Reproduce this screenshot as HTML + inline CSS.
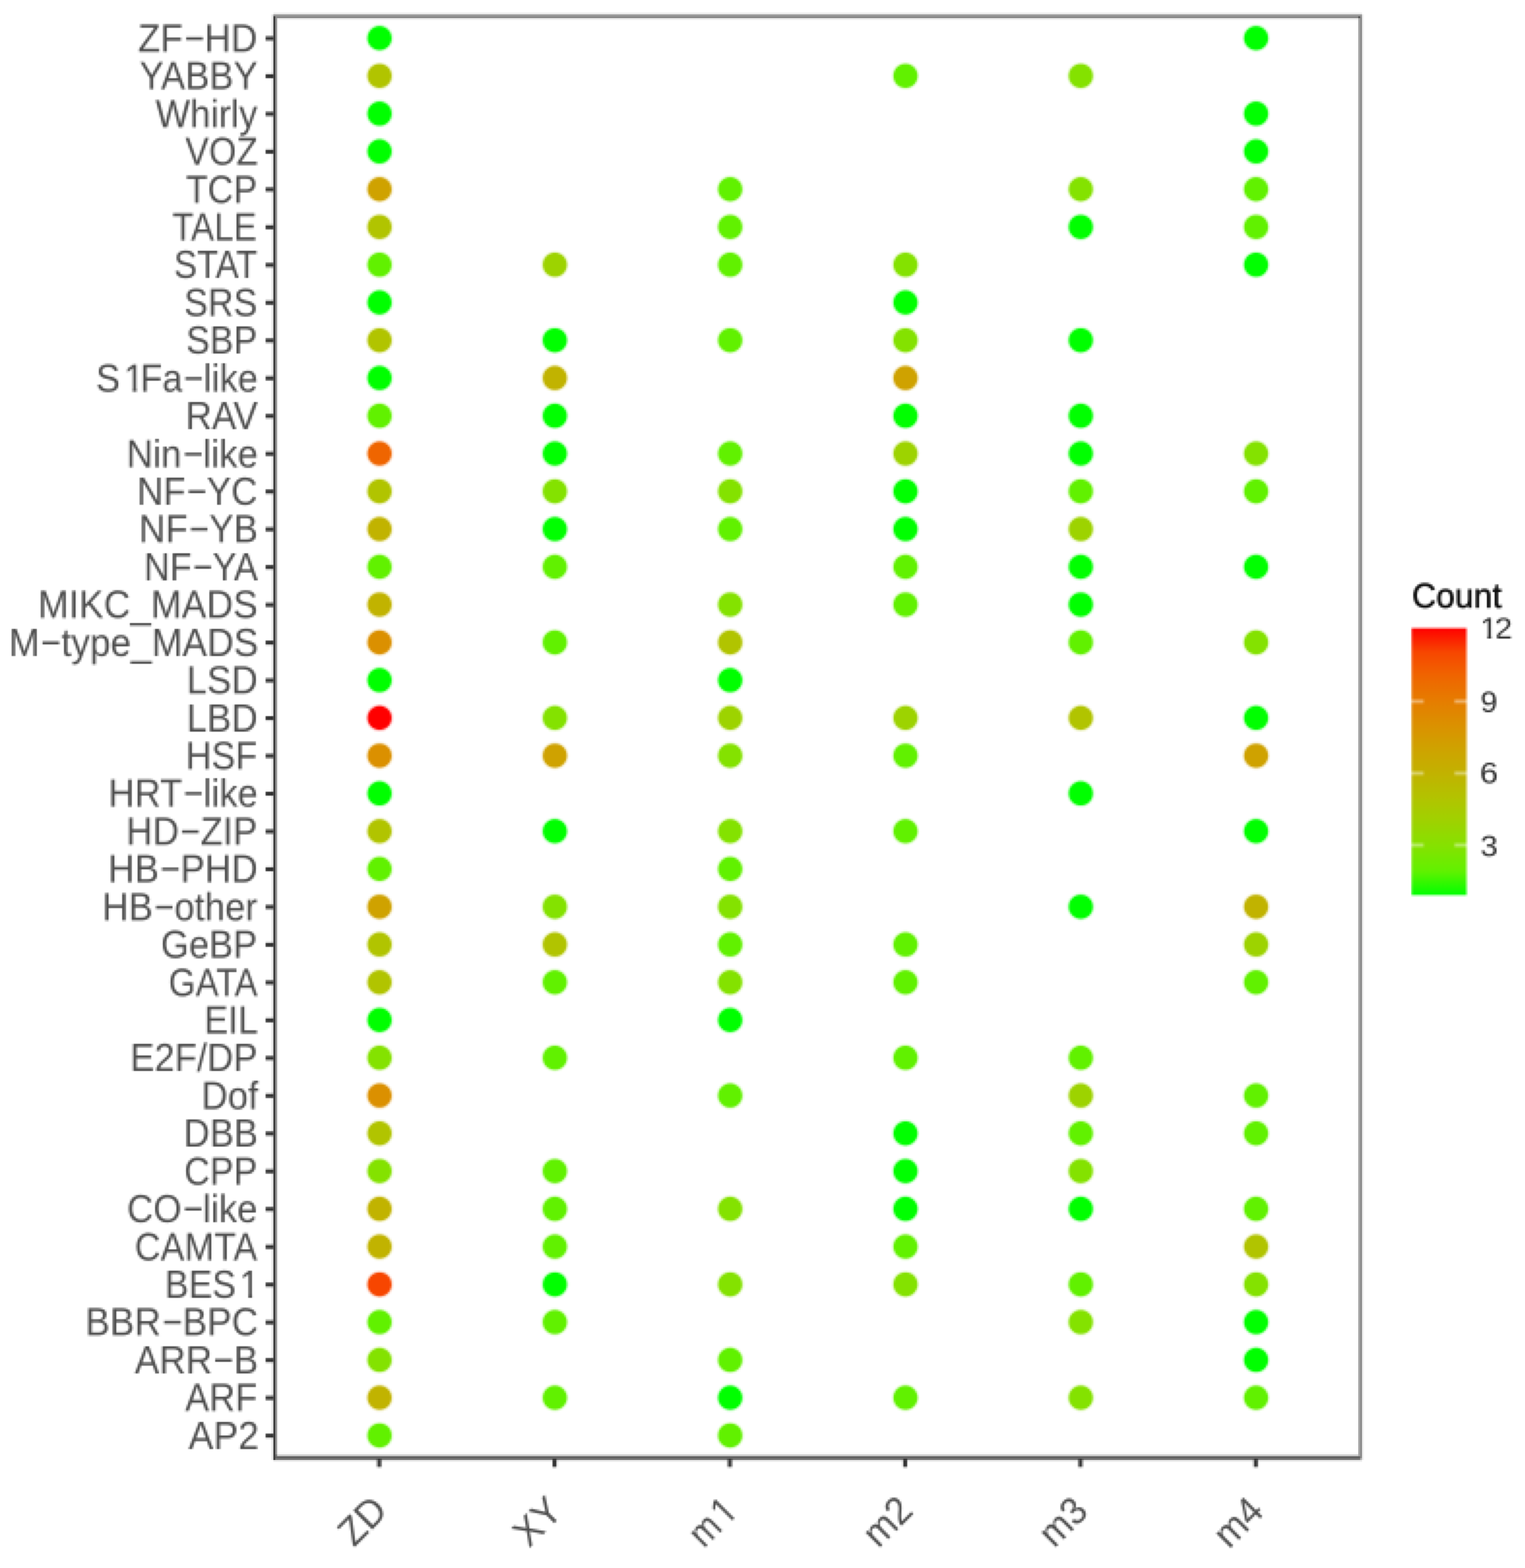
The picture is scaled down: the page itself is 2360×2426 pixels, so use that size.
<!DOCTYPE html>
<html lang="en">
<head>
<meta charset="utf-8">
<title>Transcription factor family counts (ZD, XY, m1-m4)</title>
<style>
html,body{margin:0;padding:0;background:#fff;}
body{font-family:"Liberation Sans",sans-serif;}
#page{position:relative;width:2360px;height:2426px;overflow:hidden;background:#fff;}
#chart{position:absolute;left:0;top:0;width:2360px;height:2426px;filter:url(#pix);}
#chart svg{position:absolute;left:0;top:0;display:block;}
.yl,.xl,.lt,.ll{position:absolute;white-space:nowrap;font-kerning:normal;font-variant-ligatures:none;line-height:1;margin:0;}
.yl{font-size:57px;color:#4d4d4d;text-align:right;transform-origin:100% 0.5027em;}
.h{display:inline-block;width:0.584em;text-align:center;transform:translate(0.02em,-0.072em) scale(1.86,0.95);}
.o{display:inline-block;position:relative;left:0.105em;line-height:1;}
.o::before,.o::after{content:"";position:absolute;top:0.7487em;height:0.125em;background:#fff;}
.o::before{left:0.05em;width:0.1975em;}
.o::after{left:0.3438em;width:0.1902em;}
.xl{font-size:57px;color:#4d4d4d;transform-origin:100% 0.5027em;}
.lt{font-size:53px;color:#0d0d0d;-webkit-text-stroke:0.9px #0d0d0d;transform-origin:0 0.5027em;}
.ll{font-size:44px;color:#2e2e2e;transform-origin:0 0.5027em;}
</style>
</head>
<body>
<div id="page">
<svg width="0" height="0" style="position:absolute">
<filter id="pix" x="0" y="0" width="2360" height="2426" filterUnits="userSpaceOnUse" primitiveUnits="userSpaceOnUse" color-interpolation-filters="sRGB">
<feConvolveMatrix in="SourceGraphic" order="3" kernelMatrix="1 1 1 1 1 1 1 1 1" divisor="9" edgeMode="duplicate" preserveAlpha="true" result="avg"/>
<feFlood x="1" y="2" width="1" height="1" flood-color="#000" result="dot"/>
<feComposite in="dot" in2="dot" operator="over" x="0" y="1" width="3" height="3" result="cell"/>
<feTile in="cell" result="grid"/>
<feComposite in="avg" in2="grid" operator="in" result="samp"/>
<feMorphology in="samp" operator="dilate" radius="1" result="blocks"/>
<feFlood flood-color="#fff" result="bg"/>
<feComposite in="blocks" in2="bg" operator="over" result="flat"/>
<feConvolveMatrix in="flat" order="3" kernelMatrix="1 3 1 3 9 3 1 3 1" divisor="25" edgeMode="duplicate" preserveAlpha="true"/>
</filter>
</svg>
<div id="chart">
<svg width="2360" height="2426" viewBox="0 0 2360 2426">
<rect x="0" y="0" width="2360" height="2426" fill="#ffffff"/>
<defs><linearGradient id="cb" x1="0" y1="1" x2="0" y2="0">
<stop offset="0" stop-color="#00FF00"/>
<stop offset="0.09" stop-color="#61F100"/>
<stop offset="0.18" stop-color="#84E200"/>
<stop offset="0.27" stop-color="#9DD300"/>
<stop offset="0.36" stop-color="#B1C400"/>
<stop offset="0.45" stop-color="#C1B300"/>
<stop offset="0.55" stop-color="#CFA200"/>
<stop offset="0.64" stop-color="#DB9000"/>
<stop offset="0.73" stop-color="#E67C00"/>
<stop offset="0.82" stop-color="#EF6500"/>
<stop offset="0.91" stop-color="#F74600"/>
<stop offset="1" stop-color="#FF0000"/>
</linearGradient></defs>
<g id="points">
<circle cx="587.4" cy="59" r="21" fill="#00FF00" fill-opacity="0.2"/>
<circle cx="587.4" cy="59" r="18.5" fill="#00FF00"/>
<circle cx="587.4" cy="117.43" r="21" fill="#B1C400" fill-opacity="0.2"/>
<circle cx="587.4" cy="117.43" r="18.5" fill="#B1C400"/>
<circle cx="587.4" cy="175.86" r="21" fill="#00FF00" fill-opacity="0.2"/>
<circle cx="587.4" cy="175.86" r="18.5" fill="#00FF00"/>
<circle cx="587.4" cy="234.29" r="21" fill="#00FF00" fill-opacity="0.2"/>
<circle cx="587.4" cy="234.29" r="18.5" fill="#00FF00"/>
<circle cx="587.4" cy="292.72" r="21" fill="#CFA200" fill-opacity="0.2"/>
<circle cx="587.4" cy="292.72" r="18.5" fill="#CFA200"/>
<circle cx="587.4" cy="351.15" r="21" fill="#B1C400" fill-opacity="0.2"/>
<circle cx="587.4" cy="351.15" r="18.5" fill="#B1C400"/>
<circle cx="587.4" cy="409.58" r="21" fill="#61F100" fill-opacity="0.2"/>
<circle cx="587.4" cy="409.58" r="18.5" fill="#61F100"/>
<circle cx="587.4" cy="468.01" r="21" fill="#00FF00" fill-opacity="0.2"/>
<circle cx="587.4" cy="468.01" r="18.5" fill="#00FF00"/>
<circle cx="587.4" cy="526.44" r="21" fill="#B1C400" fill-opacity="0.2"/>
<circle cx="587.4" cy="526.44" r="18.5" fill="#B1C400"/>
<circle cx="587.4" cy="584.87" r="21" fill="#00FF00" fill-opacity="0.2"/>
<circle cx="587.4" cy="584.87" r="18.5" fill="#00FF00"/>
<circle cx="587.4" cy="643.3" r="21" fill="#61F100" fill-opacity="0.2"/>
<circle cx="587.4" cy="643.3" r="18.5" fill="#61F100"/>
<circle cx="587.4" cy="701.73" r="21" fill="#EF6500" fill-opacity="0.2"/>
<circle cx="587.4" cy="701.73" r="18.5" fill="#EF6500"/>
<circle cx="587.4" cy="760.16" r="21" fill="#B1C400" fill-opacity="0.2"/>
<circle cx="587.4" cy="760.16" r="18.5" fill="#B1C400"/>
<circle cx="587.4" cy="818.59" r="21" fill="#C1B300" fill-opacity="0.2"/>
<circle cx="587.4" cy="818.59" r="18.5" fill="#C1B300"/>
<circle cx="587.4" cy="877.02" r="21" fill="#61F100" fill-opacity="0.2"/>
<circle cx="587.4" cy="877.02" r="18.5" fill="#61F100"/>
<circle cx="587.4" cy="935.45" r="21" fill="#C1B300" fill-opacity="0.2"/>
<circle cx="587.4" cy="935.45" r="18.5" fill="#C1B300"/>
<circle cx="587.4" cy="993.88" r="21" fill="#DB9000" fill-opacity="0.2"/>
<circle cx="587.4" cy="993.88" r="18.5" fill="#DB9000"/>
<circle cx="587.4" cy="1052.31" r="21" fill="#00FF00" fill-opacity="0.2"/>
<circle cx="587.4" cy="1052.31" r="18.5" fill="#00FF00"/>
<circle cx="587.4" cy="1110.74" r="21" fill="#FF0000" fill-opacity="0.2"/>
<circle cx="587.4" cy="1110.74" r="18.5" fill="#FF0000"/>
<circle cx="587.4" cy="1169.17" r="21" fill="#DB9000" fill-opacity="0.2"/>
<circle cx="587.4" cy="1169.17" r="18.5" fill="#DB9000"/>
<circle cx="587.4" cy="1227.6" r="21" fill="#00FF00" fill-opacity="0.2"/>
<circle cx="587.4" cy="1227.6" r="18.5" fill="#00FF00"/>
<circle cx="587.4" cy="1286.03" r="21" fill="#B1C400" fill-opacity="0.2"/>
<circle cx="587.4" cy="1286.03" r="18.5" fill="#B1C400"/>
<circle cx="587.4" cy="1344.46" r="21" fill="#61F100" fill-opacity="0.2"/>
<circle cx="587.4" cy="1344.46" r="18.5" fill="#61F100"/>
<circle cx="587.4" cy="1402.89" r="21" fill="#CFA200" fill-opacity="0.2"/>
<circle cx="587.4" cy="1402.89" r="18.5" fill="#CFA200"/>
<circle cx="587.4" cy="1461.32" r="21" fill="#B1C400" fill-opacity="0.2"/>
<circle cx="587.4" cy="1461.32" r="18.5" fill="#B1C400"/>
<circle cx="587.4" cy="1519.75" r="21" fill="#B1C400" fill-opacity="0.2"/>
<circle cx="587.4" cy="1519.75" r="18.5" fill="#B1C400"/>
<circle cx="587.4" cy="1578.18" r="21" fill="#00FF00" fill-opacity="0.2"/>
<circle cx="587.4" cy="1578.18" r="18.5" fill="#00FF00"/>
<circle cx="587.4" cy="1636.61" r="21" fill="#84E200" fill-opacity="0.2"/>
<circle cx="587.4" cy="1636.61" r="18.5" fill="#84E200"/>
<circle cx="587.4" cy="1695.04" r="21" fill="#DB9000" fill-opacity="0.2"/>
<circle cx="587.4" cy="1695.04" r="18.5" fill="#DB9000"/>
<circle cx="587.4" cy="1753.47" r="21" fill="#B1C400" fill-opacity="0.2"/>
<circle cx="587.4" cy="1753.47" r="18.5" fill="#B1C400"/>
<circle cx="587.4" cy="1811.9" r="21" fill="#84E200" fill-opacity="0.2"/>
<circle cx="587.4" cy="1811.9" r="18.5" fill="#84E200"/>
<circle cx="587.4" cy="1870.33" r="21" fill="#C1B300" fill-opacity="0.2"/>
<circle cx="587.4" cy="1870.33" r="18.5" fill="#C1B300"/>
<circle cx="587.4" cy="1928.76" r="21" fill="#C1B300" fill-opacity="0.2"/>
<circle cx="587.4" cy="1928.76" r="18.5" fill="#C1B300"/>
<circle cx="587.4" cy="1987.19" r="21" fill="#F74600" fill-opacity="0.2"/>
<circle cx="587.4" cy="1987.19" r="18.5" fill="#F74600"/>
<circle cx="587.4" cy="2045.62" r="21" fill="#61F100" fill-opacity="0.2"/>
<circle cx="587.4" cy="2045.62" r="18.5" fill="#61F100"/>
<circle cx="587.4" cy="2104.05" r="21" fill="#84E200" fill-opacity="0.2"/>
<circle cx="587.4" cy="2104.05" r="18.5" fill="#84E200"/>
<circle cx="587.4" cy="2162.48" r="21" fill="#C1B300" fill-opacity="0.2"/>
<circle cx="587.4" cy="2162.48" r="18.5" fill="#C1B300"/>
<circle cx="587.4" cy="2220.91" r="21" fill="#61F100" fill-opacity="0.2"/>
<circle cx="587.4" cy="2220.91" r="18.5" fill="#61F100"/>
<circle cx="858.7" cy="409.58" r="21" fill="#9DD300" fill-opacity="0.2"/>
<circle cx="858.7" cy="409.58" r="18.5" fill="#9DD300"/>
<circle cx="858.7" cy="526.44" r="21" fill="#00FF00" fill-opacity="0.2"/>
<circle cx="858.7" cy="526.44" r="18.5" fill="#00FF00"/>
<circle cx="858.7" cy="584.87" r="21" fill="#C1B300" fill-opacity="0.2"/>
<circle cx="858.7" cy="584.87" r="18.5" fill="#C1B300"/>
<circle cx="858.7" cy="643.3" r="21" fill="#00FF00" fill-opacity="0.2"/>
<circle cx="858.7" cy="643.3" r="18.5" fill="#00FF00"/>
<circle cx="858.7" cy="701.73" r="21" fill="#00FF00" fill-opacity="0.2"/>
<circle cx="858.7" cy="701.73" r="18.5" fill="#00FF00"/>
<circle cx="858.7" cy="760.16" r="21" fill="#84E200" fill-opacity="0.2"/>
<circle cx="858.7" cy="760.16" r="18.5" fill="#84E200"/>
<circle cx="858.7" cy="818.59" r="21" fill="#00FF00" fill-opacity="0.2"/>
<circle cx="858.7" cy="818.59" r="18.5" fill="#00FF00"/>
<circle cx="858.7" cy="877.02" r="21" fill="#61F100" fill-opacity="0.2"/>
<circle cx="858.7" cy="877.02" r="18.5" fill="#61F100"/>
<circle cx="858.7" cy="993.88" r="21" fill="#61F100" fill-opacity="0.2"/>
<circle cx="858.7" cy="993.88" r="18.5" fill="#61F100"/>
<circle cx="858.7" cy="1110.74" r="21" fill="#84E200" fill-opacity="0.2"/>
<circle cx="858.7" cy="1110.74" r="18.5" fill="#84E200"/>
<circle cx="858.7" cy="1169.17" r="21" fill="#CFA200" fill-opacity="0.2"/>
<circle cx="858.7" cy="1169.17" r="18.5" fill="#CFA200"/>
<circle cx="858.7" cy="1286.03" r="21" fill="#00FF00" fill-opacity="0.2"/>
<circle cx="858.7" cy="1286.03" r="18.5" fill="#00FF00"/>
<circle cx="858.7" cy="1402.89" r="21" fill="#84E200" fill-opacity="0.2"/>
<circle cx="858.7" cy="1402.89" r="18.5" fill="#84E200"/>
<circle cx="858.7" cy="1461.32" r="21" fill="#B1C400" fill-opacity="0.2"/>
<circle cx="858.7" cy="1461.32" r="18.5" fill="#B1C400"/>
<circle cx="858.7" cy="1519.75" r="21" fill="#61F100" fill-opacity="0.2"/>
<circle cx="858.7" cy="1519.75" r="18.5" fill="#61F100"/>
<circle cx="858.7" cy="1636.61" r="21" fill="#61F100" fill-opacity="0.2"/>
<circle cx="858.7" cy="1636.61" r="18.5" fill="#61F100"/>
<circle cx="858.7" cy="1811.9" r="21" fill="#61F100" fill-opacity="0.2"/>
<circle cx="858.7" cy="1811.9" r="18.5" fill="#61F100"/>
<circle cx="858.7" cy="1870.33" r="21" fill="#61F100" fill-opacity="0.2"/>
<circle cx="858.7" cy="1870.33" r="18.5" fill="#61F100"/>
<circle cx="858.7" cy="1928.76" r="21" fill="#61F100" fill-opacity="0.2"/>
<circle cx="858.7" cy="1928.76" r="18.5" fill="#61F100"/>
<circle cx="858.7" cy="1987.19" r="21" fill="#00FF00" fill-opacity="0.2"/>
<circle cx="858.7" cy="1987.19" r="18.5" fill="#00FF00"/>
<circle cx="858.7" cy="2045.62" r="21" fill="#61F100" fill-opacity="0.2"/>
<circle cx="858.7" cy="2045.62" r="18.5" fill="#61F100"/>
<circle cx="858.7" cy="2162.48" r="21" fill="#61F100" fill-opacity="0.2"/>
<circle cx="858.7" cy="2162.48" r="18.5" fill="#61F100"/>
<circle cx="1130" cy="292.72" r="21" fill="#61F100" fill-opacity="0.2"/>
<circle cx="1130" cy="292.72" r="18.5" fill="#61F100"/>
<circle cx="1130" cy="351.15" r="21" fill="#61F100" fill-opacity="0.2"/>
<circle cx="1130" cy="351.15" r="18.5" fill="#61F100"/>
<circle cx="1130" cy="409.58" r="21" fill="#61F100" fill-opacity="0.2"/>
<circle cx="1130" cy="409.58" r="18.5" fill="#61F100"/>
<circle cx="1130" cy="526.44" r="21" fill="#61F100" fill-opacity="0.2"/>
<circle cx="1130" cy="526.44" r="18.5" fill="#61F100"/>
<circle cx="1130" cy="701.73" r="21" fill="#61F100" fill-opacity="0.2"/>
<circle cx="1130" cy="701.73" r="18.5" fill="#61F100"/>
<circle cx="1130" cy="760.16" r="21" fill="#84E200" fill-opacity="0.2"/>
<circle cx="1130" cy="760.16" r="18.5" fill="#84E200"/>
<circle cx="1130" cy="818.59" r="21" fill="#61F100" fill-opacity="0.2"/>
<circle cx="1130" cy="818.59" r="18.5" fill="#61F100"/>
<circle cx="1130" cy="935.45" r="21" fill="#84E200" fill-opacity="0.2"/>
<circle cx="1130" cy="935.45" r="18.5" fill="#84E200"/>
<circle cx="1130" cy="993.88" r="21" fill="#B1C400" fill-opacity="0.2"/>
<circle cx="1130" cy="993.88" r="18.5" fill="#B1C400"/>
<circle cx="1130" cy="1052.31" r="21" fill="#00FF00" fill-opacity="0.2"/>
<circle cx="1130" cy="1052.31" r="18.5" fill="#00FF00"/>
<circle cx="1130" cy="1110.74" r="21" fill="#9DD300" fill-opacity="0.2"/>
<circle cx="1130" cy="1110.74" r="18.5" fill="#9DD300"/>
<circle cx="1130" cy="1169.17" r="21" fill="#84E200" fill-opacity="0.2"/>
<circle cx="1130" cy="1169.17" r="18.5" fill="#84E200"/>
<circle cx="1130" cy="1286.03" r="21" fill="#84E200" fill-opacity="0.2"/>
<circle cx="1130" cy="1286.03" r="18.5" fill="#84E200"/>
<circle cx="1130" cy="1344.46" r="21" fill="#61F100" fill-opacity="0.2"/>
<circle cx="1130" cy="1344.46" r="18.5" fill="#61F100"/>
<circle cx="1130" cy="1402.89" r="21" fill="#84E200" fill-opacity="0.2"/>
<circle cx="1130" cy="1402.89" r="18.5" fill="#84E200"/>
<circle cx="1130" cy="1461.32" r="21" fill="#61F100" fill-opacity="0.2"/>
<circle cx="1130" cy="1461.32" r="18.5" fill="#61F100"/>
<circle cx="1130" cy="1519.75" r="21" fill="#84E200" fill-opacity="0.2"/>
<circle cx="1130" cy="1519.75" r="18.5" fill="#84E200"/>
<circle cx="1130" cy="1578.18" r="21" fill="#00FF00" fill-opacity="0.2"/>
<circle cx="1130" cy="1578.18" r="18.5" fill="#00FF00"/>
<circle cx="1130" cy="1695.04" r="21" fill="#61F100" fill-opacity="0.2"/>
<circle cx="1130" cy="1695.04" r="18.5" fill="#61F100"/>
<circle cx="1130" cy="1870.33" r="21" fill="#84E200" fill-opacity="0.2"/>
<circle cx="1130" cy="1870.33" r="18.5" fill="#84E200"/>
<circle cx="1130" cy="1987.19" r="21" fill="#84E200" fill-opacity="0.2"/>
<circle cx="1130" cy="1987.19" r="18.5" fill="#84E200"/>
<circle cx="1130" cy="2104.05" r="21" fill="#61F100" fill-opacity="0.2"/>
<circle cx="1130" cy="2104.05" r="18.5" fill="#61F100"/>
<circle cx="1130" cy="2162.48" r="21" fill="#00FF00" fill-opacity="0.2"/>
<circle cx="1130" cy="2162.48" r="18.5" fill="#00FF00"/>
<circle cx="1130" cy="2220.91" r="21" fill="#61F100" fill-opacity="0.2"/>
<circle cx="1130" cy="2220.91" r="18.5" fill="#61F100"/>
<circle cx="1401.3" cy="117.43" r="21" fill="#61F100" fill-opacity="0.2"/>
<circle cx="1401.3" cy="117.43" r="18.5" fill="#61F100"/>
<circle cx="1401.3" cy="409.58" r="21" fill="#84E200" fill-opacity="0.2"/>
<circle cx="1401.3" cy="409.58" r="18.5" fill="#84E200"/>
<circle cx="1401.3" cy="468.01" r="21" fill="#00FF00" fill-opacity="0.2"/>
<circle cx="1401.3" cy="468.01" r="18.5" fill="#00FF00"/>
<circle cx="1401.3" cy="526.44" r="21" fill="#84E200" fill-opacity="0.2"/>
<circle cx="1401.3" cy="526.44" r="18.5" fill="#84E200"/>
<circle cx="1401.3" cy="584.87" r="21" fill="#CFA200" fill-opacity="0.2"/>
<circle cx="1401.3" cy="584.87" r="18.5" fill="#CFA200"/>
<circle cx="1401.3" cy="643.3" r="21" fill="#00FF00" fill-opacity="0.2"/>
<circle cx="1401.3" cy="643.3" r="18.5" fill="#00FF00"/>
<circle cx="1401.3" cy="701.73" r="21" fill="#9DD300" fill-opacity="0.2"/>
<circle cx="1401.3" cy="701.73" r="18.5" fill="#9DD300"/>
<circle cx="1401.3" cy="760.16" r="21" fill="#00FF00" fill-opacity="0.2"/>
<circle cx="1401.3" cy="760.16" r="18.5" fill="#00FF00"/>
<circle cx="1401.3" cy="818.59" r="21" fill="#00FF00" fill-opacity="0.2"/>
<circle cx="1401.3" cy="818.59" r="18.5" fill="#00FF00"/>
<circle cx="1401.3" cy="877.02" r="21" fill="#61F100" fill-opacity="0.2"/>
<circle cx="1401.3" cy="877.02" r="18.5" fill="#61F100"/>
<circle cx="1401.3" cy="935.45" r="21" fill="#61F100" fill-opacity="0.2"/>
<circle cx="1401.3" cy="935.45" r="18.5" fill="#61F100"/>
<circle cx="1401.3" cy="1110.74" r="21" fill="#9DD300" fill-opacity="0.2"/>
<circle cx="1401.3" cy="1110.74" r="18.5" fill="#9DD300"/>
<circle cx="1401.3" cy="1169.17" r="21" fill="#61F100" fill-opacity="0.2"/>
<circle cx="1401.3" cy="1169.17" r="18.5" fill="#61F100"/>
<circle cx="1401.3" cy="1286.03" r="21" fill="#61F100" fill-opacity="0.2"/>
<circle cx="1401.3" cy="1286.03" r="18.5" fill="#61F100"/>
<circle cx="1401.3" cy="1461.32" r="21" fill="#61F100" fill-opacity="0.2"/>
<circle cx="1401.3" cy="1461.32" r="18.5" fill="#61F100"/>
<circle cx="1401.3" cy="1519.75" r="21" fill="#61F100" fill-opacity="0.2"/>
<circle cx="1401.3" cy="1519.75" r="18.5" fill="#61F100"/>
<circle cx="1401.3" cy="1636.61" r="21" fill="#61F100" fill-opacity="0.2"/>
<circle cx="1401.3" cy="1636.61" r="18.5" fill="#61F100"/>
<circle cx="1401.3" cy="1753.47" r="21" fill="#00FF00" fill-opacity="0.2"/>
<circle cx="1401.3" cy="1753.47" r="18.5" fill="#00FF00"/>
<circle cx="1401.3" cy="1811.9" r="21" fill="#00FF00" fill-opacity="0.2"/>
<circle cx="1401.3" cy="1811.9" r="18.5" fill="#00FF00"/>
<circle cx="1401.3" cy="1870.33" r="21" fill="#00FF00" fill-opacity="0.2"/>
<circle cx="1401.3" cy="1870.33" r="18.5" fill="#00FF00"/>
<circle cx="1401.3" cy="1928.76" r="21" fill="#61F100" fill-opacity="0.2"/>
<circle cx="1401.3" cy="1928.76" r="18.5" fill="#61F100"/>
<circle cx="1401.3" cy="1987.19" r="21" fill="#84E200" fill-opacity="0.2"/>
<circle cx="1401.3" cy="1987.19" r="18.5" fill="#84E200"/>
<circle cx="1401.3" cy="2162.48" r="21" fill="#61F100" fill-opacity="0.2"/>
<circle cx="1401.3" cy="2162.48" r="18.5" fill="#61F100"/>
<circle cx="1672.6" cy="117.43" r="21" fill="#84E200" fill-opacity="0.2"/>
<circle cx="1672.6" cy="117.43" r="18.5" fill="#84E200"/>
<circle cx="1672.6" cy="292.72" r="21" fill="#84E200" fill-opacity="0.2"/>
<circle cx="1672.6" cy="292.72" r="18.5" fill="#84E200"/>
<circle cx="1672.6" cy="351.15" r="21" fill="#00FF00" fill-opacity="0.2"/>
<circle cx="1672.6" cy="351.15" r="18.5" fill="#00FF00"/>
<circle cx="1672.6" cy="526.44" r="21" fill="#00FF00" fill-opacity="0.2"/>
<circle cx="1672.6" cy="526.44" r="18.5" fill="#00FF00"/>
<circle cx="1672.6" cy="643.3" r="21" fill="#00FF00" fill-opacity="0.2"/>
<circle cx="1672.6" cy="643.3" r="18.5" fill="#00FF00"/>
<circle cx="1672.6" cy="701.73" r="21" fill="#00FF00" fill-opacity="0.2"/>
<circle cx="1672.6" cy="701.73" r="18.5" fill="#00FF00"/>
<circle cx="1672.6" cy="760.16" r="21" fill="#61F100" fill-opacity="0.2"/>
<circle cx="1672.6" cy="760.16" r="18.5" fill="#61F100"/>
<circle cx="1672.6" cy="818.59" r="21" fill="#9DD300" fill-opacity="0.2"/>
<circle cx="1672.6" cy="818.59" r="18.5" fill="#9DD300"/>
<circle cx="1672.6" cy="877.02" r="21" fill="#00FF00" fill-opacity="0.2"/>
<circle cx="1672.6" cy="877.02" r="18.5" fill="#00FF00"/>
<circle cx="1672.6" cy="935.45" r="21" fill="#00FF00" fill-opacity="0.2"/>
<circle cx="1672.6" cy="935.45" r="18.5" fill="#00FF00"/>
<circle cx="1672.6" cy="993.88" r="21" fill="#61F100" fill-opacity="0.2"/>
<circle cx="1672.6" cy="993.88" r="18.5" fill="#61F100"/>
<circle cx="1672.6" cy="1110.74" r="21" fill="#B1C400" fill-opacity="0.2"/>
<circle cx="1672.6" cy="1110.74" r="18.5" fill="#B1C400"/>
<circle cx="1672.6" cy="1227.6" r="21" fill="#00FF00" fill-opacity="0.2"/>
<circle cx="1672.6" cy="1227.6" r="18.5" fill="#00FF00"/>
<circle cx="1672.6" cy="1402.89" r="21" fill="#00FF00" fill-opacity="0.2"/>
<circle cx="1672.6" cy="1402.89" r="18.5" fill="#00FF00"/>
<circle cx="1672.6" cy="1636.61" r="21" fill="#61F100" fill-opacity="0.2"/>
<circle cx="1672.6" cy="1636.61" r="18.5" fill="#61F100"/>
<circle cx="1672.6" cy="1695.04" r="21" fill="#9DD300" fill-opacity="0.2"/>
<circle cx="1672.6" cy="1695.04" r="18.5" fill="#9DD300"/>
<circle cx="1672.6" cy="1753.47" r="21" fill="#61F100" fill-opacity="0.2"/>
<circle cx="1672.6" cy="1753.47" r="18.5" fill="#61F100"/>
<circle cx="1672.6" cy="1811.9" r="21" fill="#84E200" fill-opacity="0.2"/>
<circle cx="1672.6" cy="1811.9" r="18.5" fill="#84E200"/>
<circle cx="1672.6" cy="1870.33" r="21" fill="#00FF00" fill-opacity="0.2"/>
<circle cx="1672.6" cy="1870.33" r="18.5" fill="#00FF00"/>
<circle cx="1672.6" cy="1987.19" r="21" fill="#61F100" fill-opacity="0.2"/>
<circle cx="1672.6" cy="1987.19" r="18.5" fill="#61F100"/>
<circle cx="1672.6" cy="2045.62" r="21" fill="#84E200" fill-opacity="0.2"/>
<circle cx="1672.6" cy="2045.62" r="18.5" fill="#84E200"/>
<circle cx="1672.6" cy="2162.48" r="21" fill="#84E200" fill-opacity="0.2"/>
<circle cx="1672.6" cy="2162.48" r="18.5" fill="#84E200"/>
<circle cx="1943.9" cy="59" r="21" fill="#00FF00" fill-opacity="0.2"/>
<circle cx="1943.9" cy="59" r="18.5" fill="#00FF00"/>
<circle cx="1943.9" cy="175.86" r="21" fill="#00FF00" fill-opacity="0.2"/>
<circle cx="1943.9" cy="175.86" r="18.5" fill="#00FF00"/>
<circle cx="1943.9" cy="234.29" r="21" fill="#00FF00" fill-opacity="0.2"/>
<circle cx="1943.9" cy="234.29" r="18.5" fill="#00FF00"/>
<circle cx="1943.9" cy="292.72" r="21" fill="#61F100" fill-opacity="0.2"/>
<circle cx="1943.9" cy="292.72" r="18.5" fill="#61F100"/>
<circle cx="1943.9" cy="351.15" r="21" fill="#61F100" fill-opacity="0.2"/>
<circle cx="1943.9" cy="351.15" r="18.5" fill="#61F100"/>
<circle cx="1943.9" cy="409.58" r="21" fill="#00FF00" fill-opacity="0.2"/>
<circle cx="1943.9" cy="409.58" r="18.5" fill="#00FF00"/>
<circle cx="1943.9" cy="701.73" r="21" fill="#84E200" fill-opacity="0.2"/>
<circle cx="1943.9" cy="701.73" r="18.5" fill="#84E200"/>
<circle cx="1943.9" cy="760.16" r="21" fill="#61F100" fill-opacity="0.2"/>
<circle cx="1943.9" cy="760.16" r="18.5" fill="#61F100"/>
<circle cx="1943.9" cy="877.02" r="21" fill="#00FF00" fill-opacity="0.2"/>
<circle cx="1943.9" cy="877.02" r="18.5" fill="#00FF00"/>
<circle cx="1943.9" cy="993.88" r="21" fill="#84E200" fill-opacity="0.2"/>
<circle cx="1943.9" cy="993.88" r="18.5" fill="#84E200"/>
<circle cx="1943.9" cy="1110.74" r="21" fill="#00FF00" fill-opacity="0.2"/>
<circle cx="1943.9" cy="1110.74" r="18.5" fill="#00FF00"/>
<circle cx="1943.9" cy="1169.17" r="21" fill="#CFA200" fill-opacity="0.2"/>
<circle cx="1943.9" cy="1169.17" r="18.5" fill="#CFA200"/>
<circle cx="1943.9" cy="1286.03" r="21" fill="#00FF00" fill-opacity="0.2"/>
<circle cx="1943.9" cy="1286.03" r="18.5" fill="#00FF00"/>
<circle cx="1943.9" cy="1402.89" r="21" fill="#C1B300" fill-opacity="0.2"/>
<circle cx="1943.9" cy="1402.89" r="18.5" fill="#C1B300"/>
<circle cx="1943.9" cy="1461.32" r="21" fill="#9DD300" fill-opacity="0.2"/>
<circle cx="1943.9" cy="1461.32" r="18.5" fill="#9DD300"/>
<circle cx="1943.9" cy="1519.75" r="21" fill="#61F100" fill-opacity="0.2"/>
<circle cx="1943.9" cy="1519.75" r="18.5" fill="#61F100"/>
<circle cx="1943.9" cy="1695.04" r="21" fill="#61F100" fill-opacity="0.2"/>
<circle cx="1943.9" cy="1695.04" r="18.5" fill="#61F100"/>
<circle cx="1943.9" cy="1753.47" r="21" fill="#61F100" fill-opacity="0.2"/>
<circle cx="1943.9" cy="1753.47" r="18.5" fill="#61F100"/>
<circle cx="1943.9" cy="1870.33" r="21" fill="#61F100" fill-opacity="0.2"/>
<circle cx="1943.9" cy="1870.33" r="18.5" fill="#61F100"/>
<circle cx="1943.9" cy="1928.76" r="21" fill="#B1C400" fill-opacity="0.2"/>
<circle cx="1943.9" cy="1928.76" r="18.5" fill="#B1C400"/>
<circle cx="1943.9" cy="1987.19" r="21" fill="#84E200" fill-opacity="0.2"/>
<circle cx="1943.9" cy="1987.19" r="18.5" fill="#84E200"/>
<circle cx="1943.9" cy="2045.62" r="21" fill="#00FF00" fill-opacity="0.2"/>
<circle cx="1943.9" cy="2045.62" r="18.5" fill="#00FF00"/>
<circle cx="1943.9" cy="2104.05" r="21" fill="#00FF00" fill-opacity="0.2"/>
<circle cx="1943.9" cy="2104.05" r="18.5" fill="#00FF00"/>
<circle cx="1943.9" cy="2162.48" r="21" fill="#61F100" fill-opacity="0.2"/>
<circle cx="1943.9" cy="2162.48" r="18.5" fill="#61F100"/>
</g>
<g id="ticks" fill="#333333">
<rect x="411.1" y="56.3" width="12.3" height="6.2"/>
<rect x="411.1" y="114.73" width="12.3" height="6.2"/>
<rect x="411.1" y="173.16" width="12.3" height="6.2"/>
<rect x="411.1" y="231.59" width="12.3" height="6.2"/>
<rect x="411.1" y="290.02" width="12.3" height="6.2"/>
<rect x="411.1" y="348.45" width="12.3" height="6.2"/>
<rect x="411.1" y="406.88" width="12.3" height="6.2"/>
<rect x="411.1" y="465.31" width="12.3" height="6.2"/>
<rect x="411.1" y="523.74" width="12.3" height="6.2"/>
<rect x="411.1" y="582.17" width="12.3" height="6.2"/>
<rect x="411.1" y="640.6" width="12.3" height="6.2"/>
<rect x="411.1" y="699.03" width="12.3" height="6.2"/>
<rect x="411.1" y="757.46" width="12.3" height="6.2"/>
<rect x="411.1" y="815.89" width="12.3" height="6.2"/>
<rect x="411.1" y="874.32" width="12.3" height="6.2"/>
<rect x="411.1" y="932.75" width="12.3" height="6.2"/>
<rect x="411.1" y="991.18" width="12.3" height="6.2"/>
<rect x="411.1" y="1049.61" width="12.3" height="6.2"/>
<rect x="411.1" y="1108.04" width="12.3" height="6.2"/>
<rect x="411.1" y="1166.47" width="12.3" height="6.2"/>
<rect x="411.1" y="1224.9" width="12.3" height="6.2"/>
<rect x="411.1" y="1283.33" width="12.3" height="6.2"/>
<rect x="411.1" y="1341.76" width="12.3" height="6.2"/>
<rect x="411.1" y="1400.19" width="12.3" height="6.2"/>
<rect x="411.1" y="1458.62" width="12.3" height="6.2"/>
<rect x="411.1" y="1517.05" width="12.3" height="6.2"/>
<rect x="411.1" y="1575.48" width="12.3" height="6.2"/>
<rect x="411.1" y="1633.91" width="12.3" height="6.2"/>
<rect x="411.1" y="1692.34" width="12.3" height="6.2"/>
<rect x="411.1" y="1750.77" width="12.3" height="6.2"/>
<rect x="411.1" y="1809.2" width="12.3" height="6.2"/>
<rect x="411.1" y="1867.63" width="12.3" height="6.2"/>
<rect x="411.1" y="1926.06" width="12.3" height="6.2"/>
<rect x="411.1" y="1984.49" width="12.3" height="6.2"/>
<rect x="411.1" y="2042.92" width="12.3" height="6.2"/>
<rect x="411.1" y="2101.35" width="12.3" height="6.2"/>
<rect x="411.1" y="2159.78" width="12.3" height="6.2"/>
<rect x="411.1" y="2218.21" width="12.3" height="6.2"/>
<rect x="583.8" y="2257.5" width="6.2" height="12.3"/>
<rect x="855.1" y="2257.5" width="6.2" height="12.3"/>
<rect x="1126.4" y="2257.5" width="6.2" height="12.3"/>
<rect x="1397.7" y="2257.5" width="6.2" height="12.3"/>
<rect x="1669" y="2257.5" width="6.2" height="12.3"/>
<rect x="1940.3" y="2257.5" width="6.2" height="12.3"/>
</g>
<g id="legend">
<rect x="2184.6" y="971.9" width="85" height="413.1" fill="url(#cb)"/>
<rect x="2183.2" y="1304.7" width="20" height="5.6" fill="#ffffff" fill-opacity="0.4"/>
<rect x="2251" y="1304.7" width="20" height="5.6" fill="#ffffff" fill-opacity="0.4"/>
<rect x="2183.2" y="1193.55" width="20" height="5.6" fill="#ffffff" fill-opacity="0.4"/>
<rect x="2251" y="1193.55" width="20" height="5.6" fill="#ffffff" fill-opacity="0.4"/>
<rect x="2183.2" y="1082.4" width="20" height="5.6" fill="#ffffff" fill-opacity="0.4"/>
<rect x="2251" y="1082.4" width="20" height="5.6" fill="#ffffff" fill-opacity="0.4"/>
</g>
</svg>
<div id="ylabels">
<div class="yl" style="right:1961.53px;top:30.85px;transform:scale(0.9971,1.056)" aria-label="ZF-HD">ZF<span class="h">-</span>HD</div>
<div class="yl" style="right:1961.58px;top:89.28px;transform:scale(0.9832,1.056)">YABBY</div>
<div class="yl" style="right:1961.92px;top:147.71px;transform:scale(0.9946,1.056)">Whirly</div>
<div class="yl" style="right:1960.67px;top:206.14px;transform:scale(0.9595,1.056)">VOZ</div>
<div class="yl" style="right:1961.56px;top:264.57px;transform:scale(0.968,1.056)">TCP</div>
<div class="yl" style="right:1962.66px;top:323px;transform:scale(0.9443,1.056)">TALE</div>
<div class="yl" style="right:1961.34px;top:381.43px;transform:scale(0.9396,1.056)">STAT</div>
<div class="yl" style="right:1962.06px;top:439.86px;transform:scale(0.965,1.056)">SRS</div>
<div class="yl" style="right:1961.88px;top:498.29px;transform:scale(0.9641,1.056)">SBP</div>
<div class="yl" style="right:1961.24px;top:556.72px;transform:scale(0.9824,1.056)" aria-label="S1Fa-like">S<span class="o">1</span>Fa<span class="h">-</span>like</div>
<div class="yl" style="right:1961.16px;top:615.15px;transform:scale(0.99,1.056)">RAV</div>
<div class="yl" style="right:1960.86px;top:673.58px;transform:scale(0.9964,1.056)" aria-label="Nin-like">Nin<span class="h">-</span>like</div>
<div class="yl" style="right:1962px;top:732.01px;transform:scale(0.99,1.056)" aria-label="NF-YC">NF<span class="h">-</span>YC</div>
<div class="yl" style="right:1960.78px;top:790.44px;transform:scale(0.9945,1.056)" aria-label="NF-YB">NF<span class="h">-</span>YB</div>
<div class="yl" style="right:1961.22px;top:848.87px;transform:scale(0.9743,1.056)" aria-label="NF-YA">NF<span class="h">-</span>YA</div>
<div class="yl" style="right:1961.48px;top:907.3px;transform:scale(1.0035,1.056)">MIKC_MADS</div>
<div class="yl" style="right:1960.58px;top:965.73px;transform:scale(1.0035,1.056)" aria-label="M-type_MADS">M<span class="h">-</span>type_MADS</div>
<div class="yl" style="right:1961.07px;top:1024.16px;transform:scale(0.9939,1.056)">LSD</div>
<div class="yl" style="right:1961.07px;top:1082.59px;transform:scale(0.9939,1.056)">LBD</div>
<div class="yl" style="right:1962.28px;top:1141.02px;transform:scale(0.9698,1.056)">HSF</div>
<div class="yl" style="right:1960.65px;top:1199.45px;transform:scale(0.9845,1.056)" aria-label="HRT-like">HRT<span class="h">-</span>like</div>
<div class="yl" style="right:1961.5px;top:1257.88px;transform:scale(0.9934,1.056)" aria-label="HD-ZIP">HD<span class="h">-</span>ZIP</div>
<div class="yl" style="right:1961.16px;top:1316.31px;transform:scale(0.9941,1.056)" aria-label="HB-PHD">HB<span class="h">-</span>PHD</div>
<div class="yl" style="right:1961.76px;top:1374.74px;transform:scale(0.9903,1.056)" aria-label="HB-other">HB<span class="h">-</span>other</div>
<div class="yl" style="right:1961.5px;top:1433.17px;transform:scale(0.9797,1.056)">GeBP</div>
<div class="yl" style="right:1961.78px;top:1491.6px;transform:scale(0.9379,1.056)">GATA</div>
<div class="yl" style="right:1960.69px;top:1550.03px;transform:scale(0.9777,1.056)">EIL</div>
<div class="yl" style="right:1961.54px;top:1608.46px;transform:scale(0.9873,1.056)">E2F/DP</div>
<div class="yl" style="right:1960.22px;top:1666.89px;transform:scale(0.9906,1.056)">Dof</div>
<div class="yl" style="right:1960.68px;top:1725.32px;transform:scale(0.9799,1.056)">DBB</div>
<div class="yl" style="right:1962.1px;top:1783.75px;transform:scale(0.9655,1.056)">CPP</div>
<div class="yl" style="right:1961.21px;top:1842.18px;transform:scale(0.9878,1.056)" aria-label="CO-like">CO<span class="h">-</span>like</div>
<div class="yl" style="right:1961.26px;top:1900.61px;transform:scale(0.9719,1.056)">CAMTA</div>
<div class="yl" style="right:1964.64px;top:1959.04px;transform:scale(0.9641,1.056)" aria-label="BES1">BES<span class="o">1</span></div>
<div class="yl" style="right:1960.69px;top:2017.47px;transform:scale(0.9998,1.056)" aria-label="BBR-BPC">BBR<span class="h">-</span>BPC</div>
<div class="yl" style="right:1960.4px;top:2075.9px;transform:scale(0.997,1.056)" aria-label="ARR-B">ARR<span class="h">-</span>B</div>
<div class="yl" style="right:1961.75px;top:2134.33px;transform:scale(0.9782,1.056)">ARF</div>
<div class="yl" style="right:1958.82px;top:2192.76px;transform:scale(1.0125,1.056)">AP2</div>
</div>
<div id="xlabels">
<div class="xl" style="right:1772.3px;top:2297.05px;transform:rotate(-45deg) scale(1.0192,1.056)">ZD</div>
<div class="xl" style="right:1500.9px;top:2297.7px;transform:rotate(-45deg) scale(1.0218,1.056)">XY</div>
<div class="xl" style="right:1233.8px;top:2302.4px;transform:rotate(-45deg) scale(0.9179,1.056)" aria-label="m1">m<span class="o">1</span></div>
<div class="xl" style="right:958.9px;top:2296.8px;transform:rotate(-45deg) scale(1.0076,1.056)">m2</div>
<div class="xl" style="right:688.25px;top:2297.7px;transform:rotate(-45deg) scale(0.984,1.056)">m3</div>
<div class="xl" style="right:415.35px;top:2297.65px;transform:rotate(-45deg) scale(1.0096,1.056)">m4</div>
</div>
<div id="legendtext">
<div class="lt" style="left:2185.4px;top:894.76px;transform:scale(0.9827,1.02)">Count</div>
<div class="ll" style="left:2284.6px;top:949.88px;transform:scale(1.138,1.035)" aria-label="12"><span class="o">1</span>2</div>
<div class="ll" style="left:2290.8px;top:1064.18px;transform:scale(1.0822,1.035)">9</div>
<div class="ll" style="left:2290.4px;top:1173.63px;transform:scale(1.165,1.035)">6</div>
<div class="ll" style="left:2290.8px;top:1286.68px;transform:scale(1.1073,1.035)">3</div>
</div>
</div>
<svg id="frame" width="2360" height="2426" viewBox="0 0 2360 2426" style="position:absolute;left:0;top:0">
<rect x="423.1" y="19.3" width="1684.7" height="2.9" fill-opacity="0.071"/>
<rect x="423.1" y="22.2" width="1684.7" height="2.9" fill-opacity="0.4"/>
<rect x="426" y="25.1" width="1678.9" height="3" fill-opacity="0.467"/>
<rect x="428.9" y="28.1" width="1673" height="2.9" fill-opacity="0.067"/>
<rect x="2101.9" y="25.1" width="3" height="2228" fill-opacity="0.357"/>
<rect x="2104.9" y="25.1" width="2.9" height="2230.9" fill-opacity="0.459"/>
<rect x="2104.9" y="2256" width="2.9" height="2.9" fill-opacity="0.31"/>
<rect x="2107.8" y="22.2" width="2.9" height="2236.7" fill-opacity="0.055"/>
<rect x="420.2" y="22.2" width="2.9" height="2236.7" fill-opacity="0.106"/>
<rect x="423.1" y="25.1" width="2.9" height="2233.8" fill-opacity="0.765"/>
<rect x="426" y="28.1" width="2.9" height="2225" fill-opacity="0.42"/>
<rect x="428.9" y="31" width="2.9" height="2219.2" fill-opacity="0.031"/>
<rect x="428.9" y="2247.3" width="1673" height="2.9" fill-opacity="0.02"/>
<rect x="426" y="2250.2" width="1675.9" height="2.9" fill-opacity="0.204"/>
<rect x="426" y="2253.1" width="1678.9" height="2.9" fill-opacity="0.624"/>
<rect x="426" y="2256" width="1678.9" height="2.9" fill-opacity="0.545"/>
<rect x="423.1" y="2258.9" width="1684.7" height="2.9" fill-opacity="0.078"/>
</svg>
</div>
</body>
</html>
